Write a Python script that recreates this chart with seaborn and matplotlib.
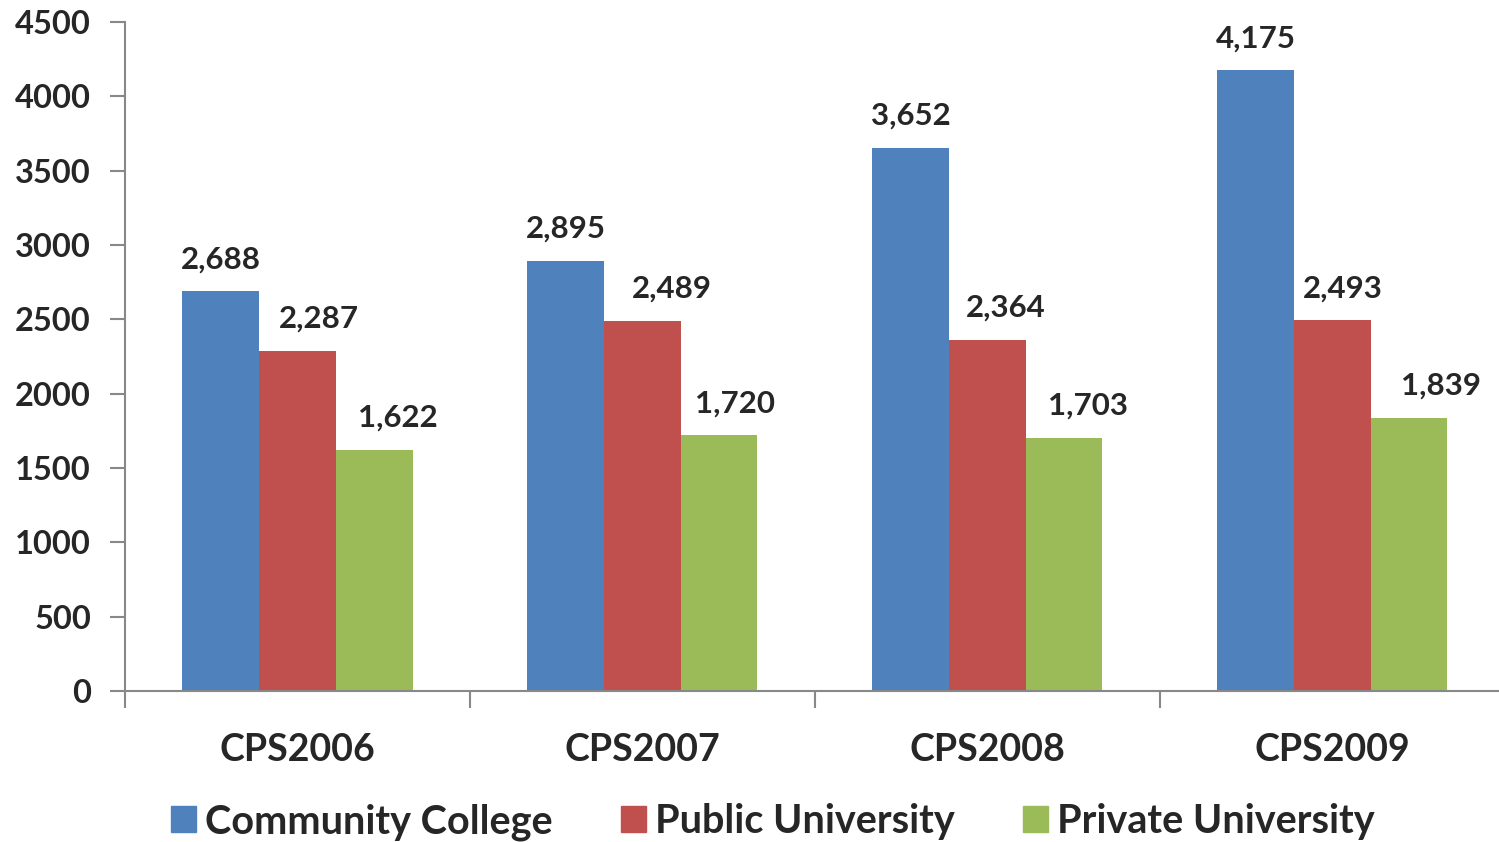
import pandas as pd
import matplotlib
matplotlib.use("Agg")
import matplotlib.pyplot as plt
import seaborn as sns

years = ["CPS2006", "CPS2007", "CPS2008", "CPS2009"]
community = [2688, 2895, 3652, 4175]
public = [2287, 2489, 2364, 2493]
private = [1622, 1720, 1703, 1839]
series = ["Community College", "Public University", "Private University"]
colors = ["#4F81BD", "#C0504D", "#9BBB59"]

# sideways nudge of the value labels (pixels), per series then per year
label_shift = [[0, 0, 0, 0], [21, 29, 18, 10], [24, 16, 24, 32]]

df = pd.DataFrame({
    "year": years * 3,
    "type": [series[0]] * 4 + [series[1]] * 4 + [series[2]] * 4,
    "value": community + public + private,
})

sns.set_style("white")
plt.rcParams['font.family'] = ['Lato', 'DejaVu Sans']
plt.rcParams['font.weight'] = 'bold'

fig = plt.figure(figsize=(14.99, 8.42), dpi=100)
ax = fig.add_axes([125 / 1499, 151 / 842, 1374 / 1499, 669 / 842])
sns.barplot(data=df, x="year", y="value", hue="type", palette=colors,
            width=0.667, ax=ax, saturation=1, edgecolor="none")

# value labels above bars
for i, c in enumerate(ax.containers):
    for j, bar in enumerate(c):
        x = bar.get_x() + bar.get_width() / 2
        h = bar.get_height()
        ax.annotate(f"{h:,.0f}", xy=(x, h), xytext=(label_shift[i][j] * 0.72, 13),
                    textcoords="offset points", ha="center", va="bottom",
                    fontsize=22.5, fontweight='bold')

ax.set_ylim(0, 4500)
ax.set_xlim(-0.5, 3.483)
ax.set_yticks(range(0, 4501, 500))
ax.set_xlabel("")
ax.set_ylabel("")
ax.tick_params(axis='y', labelsize=23.5, length=11, width=1.5, color='#888888',
               left=True, pad=13.5)
ax.tick_params(axis='x', which='major', labelsize=27, length=0, pad=30)
ax.set_xticks([-0.5, 0.5, 1.5, 2.5], minor=True)
ax.tick_params(axis='x', which='minor', length=12, width=1.5, color='#888888',
               bottom=True)
for lab in ax.get_xticklabels() + ax.get_yticklabels():
    lab.set_fontweight('bold')

sns.despine(ax=ax, top=True, right=True)
for s in ["left", "bottom"]:
    ax.spines[s].set_color('#888888')
    ax.spines[s].set_linewidth(1.5)

ax.legend_.remove()
handles = [plt.Rectangle((0, 0), 1, 1, color=c) for c in colors]
fig.legend(handles, series, loc='center', bbox_to_anchor=(773 / 1499, 1 - 822 / 842),
           ncol=3, frameon=False, handlelength=0.63, handleheight=0.63,
           handletextpad=0.23, columnspacing=1.72, prop={'weight': 'bold', 'size': 28.5})

fig.savefig("out.png", dpi=100)
